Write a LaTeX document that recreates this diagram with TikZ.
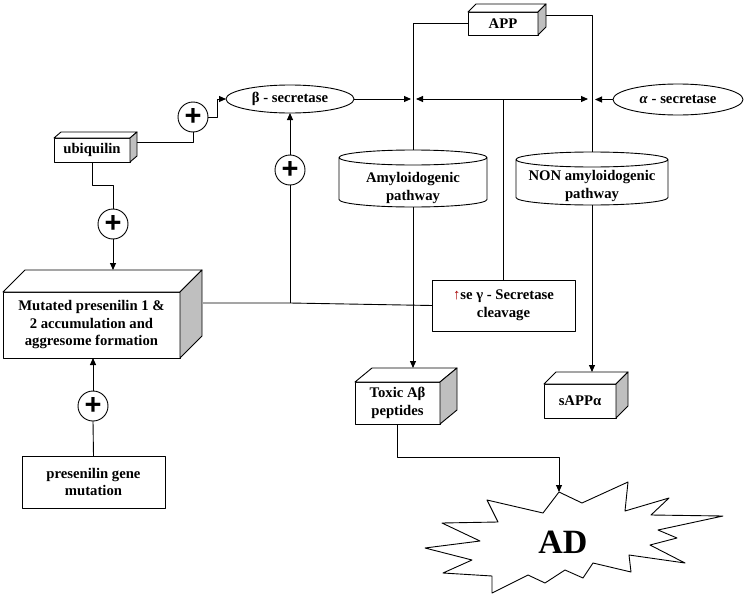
\documentclass[tikz,border=0pt]{standalone}
\usepackage{fontspec}
\setmainfont{Liberation Serif}
\newfontfamily\plusfont{Liberation Sans}
\usetikzlibrary{arrows.meta,shapes.geometric}
\colorlet{sidegray}{black!25}
\colorlet{arrowred}{red!65!black}
\newcommand\cubefaces[3]{%
  \filldraw[fill=white] (#1.north west) -- ++(#2,-#3) -- ([shift={(#2,-#3)}]#1.north east) -- (#1.north east) -- cycle;
  \filldraw[fill=sidegray] (#1.north east) -- ++(#2,-#3) -- ([shift={(#2,-#3)}]#1.south east) -- (#1.south east) -- cycle;}
\newcommand\drum[4]{%
  \draw[fill=white] (#1-#4,#2+7.5) -- (#1-#4,#3-7.5) arc[start angle=180,end angle=0,x radius=#4,y radius=7.5]
    -- (#1+#4,#2+7.5) arc[start angle=0,end angle=360,x radius=#4,y radius=7.5];}
\begin{document}
\begin{tikzpicture}[x=1pt, y=-1pt, line width=0.9pt, line join=round,
  >={Triangle[length=7pt,width=6pt]},
  font=\bfseries\fontsize{14.7}{17.5}\selectfont,
  box/.style={draw, fill=white, align=center, inner sep=0pt, outer sep=0pt},
  oval/.style={draw, ellipse, inner sep=0pt, outer sep=0pt},
  plus/.style={draw, circle, minimum size=30pt, inner sep=0pt, outer sep=0pt,
    font=\plusfont\bfseries\fontsize{29}{29}\selectfont}]
  \useasboundingbox (0,0) rectangle (745,597);

  \node[box, minimum width=70pt, minimum height=23pt] (app) at (503,23.5) {APP};
  \cubefaces{app}{8}{8}
  \node[box, minimum width=76pt, minimum height=24pt] (ubq) at (92,150) {ubiquilin};
  \cubefaces{ubq}{7}{6}
  \node[box, minimum width=177pt, minimum height=66pt] (mut) at (91.5,325)
    {Mutated presenilin 1 \&\\2 accumulation and\\aggresome formation};
  \cubefaces{mut}{22}{22}
  \node[box, minimum width=143pt, minimum height=52pt] (gene) at (93.5,482) {presenilin gene\\mutation};
  \node[oval, minimum width=128pt, minimum height=28pt] (beta) at (290,99) {β - secretase};
  \node[oval, minimum width=130pt, minimum height=31pt] (alpha) at (678,99.5) {\textit{α} - secretase};
  \drum{413}{150}{207}{74}
  \node[align=center] (amy) at (413,188) {Amyloidogenic\\pathway};
  \drum{592}{152}{205}{76}
  \node[align=center] (non) at (592,186) {NON amyloidogenic\\pathway};
  \node[box, minimum width=143pt, minimum height=51pt] (gsec) at (503.5,305.5)
    {{\color{arrowred}↑}se γ - Secretase\\cleavage};
  \node[box, minimum width=85pt, minimum height=42pt] (tox) at (397.5,403) {Toxic Aβ\\peptides};
  \cubefaces{tox}{17}{14}
  \node[box, minimum width=72pt, minimum height=34pt] (sapp) at (580,401) {sAPPα};
  \cubefaces{sapp}{12}{12}
  \draw[fill=white] (559,492) -- (582,503) -- (628,482) -- (625,511) -- (669,498) -- (651,515)
    -- (723,516) -- (658,530) -- (677,538) -- (650,545) -- (685,563) -- (629,555) -- (631,572)
    -- (593,563) -- (583,578) -- (565,570) -- (545,583) -- (528,575) -- (492,593) -- (492,576)
    -- (443,573) -- (472,560) -- (425,548) -- (480,541) -- (442,523) -- (498,522) -- (487,500)
    -- (543,513) -- cycle;
  \node (ad) at (563,542) {\fontsize{34}{34}\selectfont AD};

  \node[plus] (p1) at (193,117) {+};
  \node[plus] (p2) at (113,224) {+};
  \node[plus] (p3) at (93,406) {+};
  \node[plus] (p4) at (290,170) {+};

  \coordinate (appside) at (546,15);
  \coordinate (ubqside) at (137,142);
  \coordinate (mutside) at (203,303);
  \coordinate (mutback) at (113,270);
  \coordinate (amytop) at (413,150);
  \coordinate (amybot) at (413,207);
  \coordinate (nontop) at (592,152);
  \coordinate (nonbot) at (592,205);
  \coordinate (toxback) at (413,368);
  \coordinate (sappback) at (592,372);
  \coordinate (adtop) at (559,492);

  \draw (ubqside) -| (p1.south);
  \draw[->] (p1.east) -- ++(9,0) |- (beta.west);
  \draw (ubq.south) -- ++(0,23) -| (p2.north);
  \draw[->] (p2.south) -- (mutback);
  \draw (gene.north) -- (p3.south);
  \draw[->] (p3.north) -- (p3.north |- mut.south);
  \draw (mutside) -- (p4.south |- mutside) -- (gsec.west);
  \draw (p4.south |- mutside) -- (p4.south);
  \draw[->] (p4.north) -- (beta.south);
  \draw[->] (beta.east) -- ([xshift=-2pt]beta.east -| amytop);
  \draw[<->] ([xshift=3pt]beta.east -| amytop) -- ([xshift=-4pt]beta.east -| nontop);
  \draw[->] (alpha.west) -- ([xshift=3pt]alpha.west -| nontop);
  \draw (beta.east -| gsec.north) -- (gsec.north);
  \draw (app.west) -| (amytop);
  \draw (appside) -| (nontop);
  \draw[->] (amybot) -- (toxback);
  \draw[->] (nonbot) -- (sappback);
  \draw[->] (tox.south) -- ++(0,33) -| (adtop);
\end{tikzpicture}
\end{document}
